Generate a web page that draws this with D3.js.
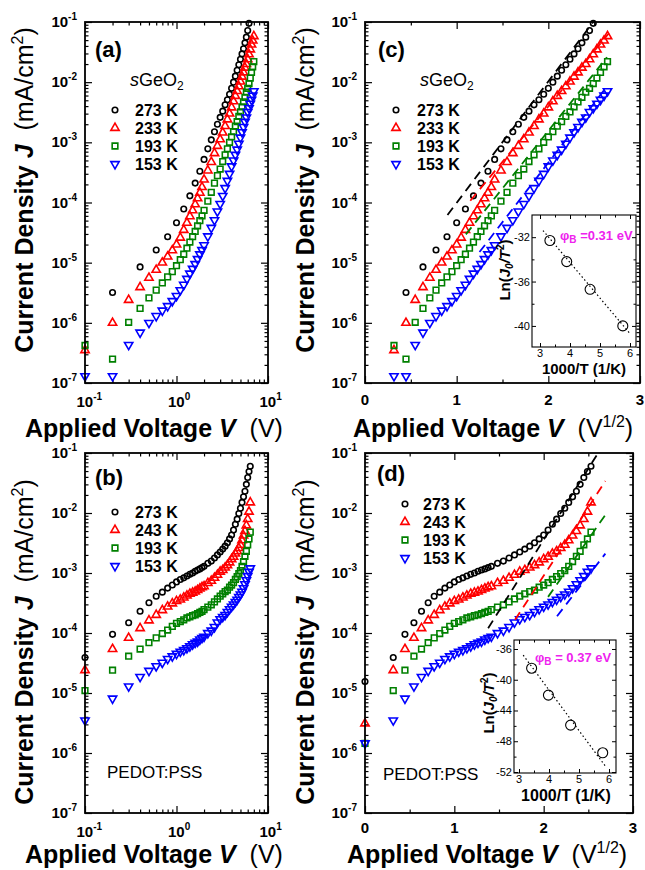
<!DOCTYPE html>
<html>
<head>
<meta charset="utf-8">
<script src="https://cdn.jsdelivr.net/npm/d3@7"></script>
<style>
  body { margin: 0; background: #fff; }
  svg { font-family: "Liberation Sans", Arial, Helvetica, sans-serif; }
</style>
</head>
<body>
<svg id="chart" width="645" height="870"></svg>
<script>
// ---------- sGeO2 device (panels a and c) ----------
const voltsGe273 = [0.2,0.4,0.6,0.8,1.0,1.2,1.4,1.6,1.8,2.0,2.2,2.4,2.6,2.8,3.0,3.2,3.4,3.6,3.8,4.0,
                    4.2,4.4,4.6,4.8,5.0,5.2,5.4,5.6,5.8,6.0,6.2];
const voltsGe = [0.1,0.2,0.3,0.4,0.5,0.6,0.7,0.8,0.9,1.0,1.1,1.2,1.3,1.4,1.5,1.6,1.7,1.8,1.9,2.0,
                 2.2,2.4,2.6,2.8,3.0,3.2,3.4,3.6,3.8,4.0,4.2,4.4,4.6,4.8,5.0,5.2,5.4,5.6,5.8,6.0,
                 6.2,6.4,6.6,6.8,7.0];
const geJ273 = [3.2e-6,8.5e-6,1.62e-5,2.7e-5,4.6e-5,7.8e-5,1.29e-4,2.1e-4,3.3e-4,5.2e-4,
                7.8e-4,1.1e-3,1.5e-3,2.0e-3,2.6e-3,3.3e-3,4.2e-3,5.1e-3,6.3e-3,7.9e-3,
                1.0e-2,1.26e-2,1.58e-2,1.95e-2,2.4e-2,2.95e-2,3.6e-2,4.5e-2,5.6e-2,7.2e-2,9.5e-2];
const geJ233 = [3.5e-7,1.0e-6,2.4e-6,3.9e-6,5.6e-6,7.6e-6,1.0e-5,1.26e-5,1.6e-5,2.0e-5,
                2.6e-5,3.5e-5,4.6e-5,5.9e-5,7.4e-5,9.3e-5,1.17e-4,1.45e-4,1.8e-4,2.4e-4,
                3.4e-4,4.7e-4,6.6e-4,8.7e-4,1.12e-3,1.45e-3,1.86e-3,2.4e-3,3.0e-3,3.8e-3,
                4.8e-3,5.9e-3,7.1e-3,8.5e-3,1.02e-2,1.23e-2,1.45e-2,1.74e-2,2.0e-2,2.4e-2,
                2.9e-2,3.5e-2,4.2e-2,4.9e-2,5.8e-2];
const geJ193 = [4.2e-7,2.5e-7,1.02e-6,1.74e-6,2.6e-6,3.5e-6,4.6e-6,5.8e-6,7.1e-6,8.9e-6,
                1.12e-5,1.38e-5,1.74e-5,2.2e-5,2.7e-5,3.3e-5,4.1e-5,5.0e-5,6.0e-5,7.4e-5,
                1.05e-4,1.48e-4,2.1e-4,2.8e-4,3.6e-4,4.8e-4,6.2e-4,7.8e-4,1.0e-3,1.23e-3,
                1.5e-3,1.86e-3,2.2e-3,2.7e-3,3.2e-3,3.9e-3,4.7e-3,5.6e-3,6.8e-3,7.9e-3,
                9.5e-3,1.17e-2,1.45e-2,1.8e-2,2.2e-2];
const geJ153 = [1.3e-7,1.3e-7,4.3e-7,6.9e-7,1.0e-6,1.3e-6,1.6e-6,1.9e-6,2.3e-6,2.8e-6,
                3.5e-6,4.3e-6,5.4e-6,6.6e-6,7.9e-6,9.5e-6,1.15e-5,1.38e-5,1.62e-5,1.95e-5,
                2.75e-5,3.8e-5,5.1e-5,7.1e-5,9.5e-5,1.29e-4,1.74e-4,2.3e-4,3.0e-4,4.0e-4,
                5.0e-4,6.2e-4,7.6e-4,9.5e-4,1.2e-3,1.48e-3,1.8e-3,2.2e-3,2.6e-3,3.2e-3,
                3.7e-3,4.4e-3,5.1e-3,6.0e-3,7.1e-3];
// dashed fits in panel (c): [V, J] end points
const fitGe273 = [[0.81, 6.2e-5], [6.25, 1.05e-1]];
const fitGe233 = [[1.32, 1.07e-4], [7.08, 6.5e-2]];
const fitGe193 = [[1.21, 2.95e-5], [6.97, 2.6e-2]];
const fitGe153 = [[1.56, 1.5e-5], [6.97, 8.5e-3]];

// ---------- PEDOT:PSS device (panels b and d) ----------
const voltsPed = [0,0.1,0.2,0.3,0.4,0.5,0.6,0.7,0.8,0.9,1.0,1.1,1.2,1.3,1.4,1.5,1.6,1.7,1.8,1.9,2.0,
                  2.2,2.4,2.6,2.8,3.0,3.2,3.4,3.6,3.8,4.0,4.2,4.4,4.6,4.8,5.0,5.2,5.4,5.6,5.8,6.0,6.2,6.4];
const pedJ273 = [1.55e-5,
                 3.9e-5,9.5e-5,1.48e-4,2.3e-4,3.2e-4,4.1e-4,4.8e-4,5.6e-4,6.3e-4,7.1e-4,
                 7.8e-4,8.3e-4,8.9e-4,9.5e-4,1.0e-3,1.07e-3,1.12e-3,1.17e-3,1.23e-3,1.29e-3,
                 1.45e-3,1.58e-3,1.78e-3,2.0e-3,2.24e-3,2.5e-3,2.8e-3,3.2e-3,3.7e-3,4.3e-3,
                 5.2e-3,6.5e-3,7.9e-3,9.8e-3,1.2e-2,1.5e-2,1.86e-2,2.3e-2,3.0e-2,3.9e-2,
                 4.9e-2,6.0e-2];
const pedJ243 = [3.1e-6,
                 2.4e-5,5.4e-5,8.3e-5,1.2e-4,1.62e-4,2.0e-4,2.4e-4,2.75e-4,3.1e-4,3.4e-4,
                 3.6e-4,3.9e-4,4.2e-4,4.5e-4,4.7e-4,4.9e-4,5.2e-4,5.5e-4,5.8e-4,6.0e-4,
                 6.8e-4,7.4e-4,8.3e-4,9.3e-4,1.05e-3,1.12e-3,1.23e-3,1.35e-3,1.5e-3,1.7e-3,
                 1.86e-3,2.1e-3,2.3e-3,2.6e-3,2.95e-3,3.5e-3,4.2e-3,5.0e-3,6.2e-3,7.9e-3,
                 1.05e-2,1.5e-2];
const pedJ193 = [1.45e-6,
                 1.1e-5,2.4e-5,4.1e-5,5.4e-5,6.9e-5,8.3e-5,9.8e-5,1.12e-4,1.29e-4,1.45e-4,
                 1.55e-4,1.66e-4,1.78e-4,1.86e-4,1.95e-4,2.0e-4,2.1e-4,2.2e-4,2.3e-4,2.45e-4,
                 2.7e-4,2.95e-4,3.3e-4,3.7e-4,4.1e-4,4.5e-4,4.9e-4,5.2e-4,5.8e-4,6.3e-4,
                 6.9e-4,7.8e-4,8.7e-4,9.8e-4,1.1e-3,1.29e-3,1.55e-3,1.9e-3,2.3e-3,2.95e-3,
                 3.7e-3,4.8e-3];
const pedJ153 = [1.45e-6,
                 3.5e-6,8.1e-6,1.29e-5,1.86e-5,2.35e-5,2.8e-5,3.2e-5,3.7e-5,4.1e-5,4.5e-5,
                 4.9e-5,5.2e-5,5.6e-5,6.0e-5,6.5e-5,6.9e-5,7.2e-5,7.8e-5,8.3e-5,8.7e-5,
                 1.0e-4,1.1e-4,1.26e-4,1.5e-4,1.7e-4,1.86e-4,2.0e-4,2.25e-4,2.5e-4,2.75e-4,
                 3.0e-4,3.3e-4,3.6e-4,4.0e-4,4.4e-4,4.9e-4,5.6e-4,6.5e-4,7.6e-4,8.9e-4,
                 1.05e-3,1.2e-3];
// dashed fits in panel (d): [V, J] end points
const fitPed273 = [[1.90, 1.2e-4], [6.81, 1.0e-1]];
const fitPed243 = [[2.82, 1.66e-4], [7.24, 3.4e-2]];
const fitPed193 = [[4.20, 4.0e-4], [7.24, 9.3e-3]];
const fitPed153 = [[4.62, 1.9e-4], [7.24, 2.1e-3]];

// ---------- insets: Ln(J0/T^2) vs 1000/T ----------
const insetCx = [3.33, 3.89, 4.67, 5.76];
const insetCy = [-32.3, -34.2, -36.7, -40.0];
const insetCfit = [[3.1, -31.4], [5.97, -40.6]];
const insetDx = [3.42, 3.98, 4.72, 5.79];
const insetDy = [-38.5, -42.0, -45.9, -49.5];
const insetDfit = [[3.14, -36.8], [5.87, -51.2]];

const decadeTicks = [1e-7, 1e-6, 1e-5, 1e-4, 1e-3, 1e-2, 1e-1];
const decadeExp = ["-7", "-6", "-5", "-4", "-3", "-2", "-1"];

const BLACK = "#000", RED = "#ff0000", GREEN = "#008000", BLUE = "#0000ff";

const geSeries = [
    {label: "273 K", volts: voltsGe273, j: geJ273, color: BLACK, shape: "circle"},
    {label: "233 K", volts: voltsGe, j: geJ233, color: RED, shape: "up"},
    {label: "193 K", volts: voltsGe, j: geJ193, color: GREEN, shape: "square"},
    {label: "153 K", volts: voltsGe, j: geJ153, color: BLUE, shape: "down"}
];
const pedSeries = [
    {label: "273 K", volts: voltsPed, j: pedJ273, color: BLACK, shape: "circle"},
    {label: "243 K", volts: voltsPed, j: pedJ243, color: RED, shape: "up"},
    {label: "193 K", volts: voltsPed, j: pedJ193, color: GREEN, shape: "square"},
    {label: "153 K", volts: voltsPed, j: pedJ153, color: BLUE, shape: "down"}
];
const geFits = [[fitGe273, BLACK], [fitGe233, RED], [fitGe193, GREEN], [fitGe153, BLUE]];
const pedFits = [[fitPed273, BLACK], [fitPed243, RED], [fitPed193, GREEN], [fitPed153, BLUE]];

const svg = d3.select("#chart");
svg.append("rect").attr("width", 645).attr("height", 870).attr("fill", "#fff");

const symbols = {
    circle: d3.symbol().type(d3.symbolCircle).size(24)(),
    up: d3.symbol().type(d3.symbolTriangle).size(30)(),
    square: d3.symbol().type(d3.symbolSquare).size(32)(),
    down: d3.symbol().type(d3.symbolTriangle).size(30)()
};
const MARK_W = 1.6;

// text made of styled pieces (bold / italic / super- and subscripts)
function richText(g, x, y, parts, o) {
    const t = g.append("text")
        .attr("x", x).attr("y", y)
        .attr("text-anchor", o.anchor || "start")
        .style("font-size", o.size + "px");
    if (o.rotate) t.attr("transform", `rotate(-90,${x},${y})`);
    if (o.fill) t.attr("fill", o.fill);
    if (o.bold) t.attr("font-weight", "bold");
    parts.forEach(p => {
        const s = t.append("tspan").text(p.t);
        if (p.b) s.attr("font-weight", "bold");
        if (p.i) s.attr("font-style", "italic");
        if (p.dy) s.attr("dy", p.dy);
        if (p.fs) s.style("font-size", p.fs + "px");
    });
    return t;
}

function minorLog(lo, hi) {
    const out = [];
    for (let e = Math.floor(Math.log10(lo)); e < Math.ceil(Math.log10(hi)); e++) {
        for (let k = 2; k <= 9; k++) {
            const v = k * Math.pow(10, e);
            if (v > lo && v < hi) out.push(v);
        }
    }
    return out;
}

function tickAxes(g, x, y, box, xMajor, xMinor, yMajor, yMinor, big, small, w) {
    const add = (axis, tr) => {
        const a = g.append("g").attr("transform", tr).call(axis);
        a.select(".domain").remove();
        a.selectAll("line").attr("stroke", "#000").attr("stroke-width", w);
    };
    [[xMajor, big], [xMinor, small]].forEach(([vals, len]) => {
        add(d3.axisBottom(x).tickValues(vals).tickSize(-len).tickFormat(""), `translate(0,${box.y1})`);
        add(d3.axisTop(x).tickValues(vals).tickSize(-len).tickFormat(""), `translate(0,${box.y0})`);
    });
    [[yMajor, big], [yMinor, small]].forEach(([vals, len]) => {
        add(d3.axisLeft(y).tickValues(vals).tickSize(-len).tickFormat(""), `translate(${box.x0},0)`);
        add(d3.axisRight(y).tickValues(vals).tickSize(-len).tickFormat(""), `translate(${box.x1},0)`);
    });
}

function drawPanel(p) {
    const g = svg.append("g");
    const x = p.sqrt
        ? d3.scaleSqrt().domain([0, 9]).range([p.x0, p.x1])
        : d3.scaleLog().domain([0.1, 10]).range([p.x0, p.x1]);
    const y = d3.scaleLog().domain([1e-7, 1e-1]).range([p.y1, p.y0]);

    const xMajor = p.sqrt ? [0, 1, 4, 9] : [0.1, 1, 10];
    const xMinor = p.sqrt ? [0.25, 2.25, 6.25] : minorLog(0.1, 10);
    tickAxes(g, x, y, p, xMajor, xMinor, decadeTicks, minorLog(1e-7, 1e-1), 7, 3.5, 1.2);

    // y tick labels 10^n
    decadeTicks.forEach((v, i) => {
        richText(g, p.x0 - 8, y(v) + 5, [{t: "10"}, {t: decadeExp[i], dy: -7, fs: 10}],
            {size: 15, anchor: "end", bold: true});
    });
    // x tick labels
    if (p.sqrt) {
        [0, 1, 4, 9].forEach(v => {
            g.append("text").attr("x", x(v)).attr("y", p.tickY).attr("text-anchor", "middle")
                .attr("font-weight", "bold").style("font-size", "15px").text(Math.sqrt(v));
        });
    } else {
        [[0.1, "-1"], [1, "0"], [10, "1"]].forEach(([v, e]) => {
            richText(g, x(v) - 8.5, p.tickY, [{t: "10"}, {t: e, dy: -7, fs: 10}], {size: 15, bold: true});
        });
    }

    // data markers
    p.series.forEach(s => {
        const pts = s.volts.map((v, i) => ({v, j: s.j[i]}))
            .filter(d => p.sqrt ? d.v >= 0 : d.v >= 0.1);
        g.append("g").selectAll("path").data(pts).join("path")
            .attr("transform", d => `translate(${x(d.v)},${y(d.j)})` + (s.shape === "down" ? " rotate(180)" : ""))
            .attr("d", symbols[s.shape])
            .attr("fill", "none")
            .attr("stroke", s.color)
            .attr("stroke-width", MARK_W);
    });

    // dashed fit lines
    if (p.fits) {
        const clipId = "clip-" + p.id;
        svg.append("clipPath").attr("id", clipId).append("rect")
            .attr("x", p.x0).attr("y", p.y0).attr("width", p.x1 - p.x0).attr("height", p.y1 - p.y0);
        g.append("g").attr("clip-path", `url(#${clipId})`)
            .selectAll("line").data(p.fits).join("line")
            .attr("x1", d => x(d[0][0][0])).attr("y1", d => y(d[0][0][1]))
            .attr("x2", d => x(d[0][1][0])).attr("y2", d => y(d[0][1][1]))
            .attr("stroke", d => d[1])
            .attr("stroke-width", 1.8)
            .attr("stroke-dasharray", "9,6");
    }

    // frame
    g.append("rect").attr("x", p.x0).attr("y", p.y0)
        .attr("width", p.x1 - p.x0).attr("height", p.y1 - p.y0)
        .attr("fill", "none").attr("stroke", "#000").attr("stroke-width", 1.8);

    // panel tag
    g.append("text").attr("x", p.tag[1]).attr("y", p.tag[2])
        .attr("font-weight", "bold").style("font-size", "22px").text(p.tag[0]);

    // legend
    p.series.forEach((s, i) => {
        const ry = p.legend.rows[i];
        g.append("path")
            .attr("transform", `translate(${p.legend.sx},${ry})` + (s.shape === "down" ? " rotate(180)" : ""))
            .attr("d", symbols[s.shape]).attr("fill", "none")
            .attr("stroke", s.color).attr("stroke-width", MARK_W);
        g.append("text").attr("x", p.legend.tx).attr("y", ry + 6)
            .attr("font-weight", "bold").style("font-size", "16px").text(s.label);
    });

    if (p.material) {
        richText(g, p.material[0], p.material[1],
            [{t: "s", i: 1}, {t: "GeO"}, {t: "2", dy: 4, fs: 12}], {size: 18});
    }
    if (p.pedot) {
        g.append("text").attr("x", p.pedot[0]).attr("y", p.pedot[1])
            .style("font-size", "17px").text("PEDOT:PSS");
    }

    // axis titles
    const xParts = [{t: "Applied Voltage ", b: 1}, {t: "V", b: 1, i: 1}];
    if (p.sqrt) xParts.push({t: "\u00a0\u00a0(V"}, {t: "1/2", dy: -10, fs: 16}, {t: ")", dy: 10});
    else xParts.push({t: "\u00a0\u00a0(V)"});
    richText(g, p.xTitle[0], p.xTitle[1], xParts, {size: 25});

    richText(g, p.yTitle[0], p.yTitle[1],
        [{t: "Current Density ", b: 1}, {t: "J", b: 1, i: 1}, {t: "\u00a0\u00a0(mA/cm"},
         {t: "2", dy: -10, fs: 16}, {t: ")", dy: 10}],
        {size: 25, anchor: "middle", rotate: true});
}

function drawInset(q) {
    const g = svg.append("g");
    const x = d3.scaleLinear().domain(q.xd).range([q.x0, q.x1]);
    const y = d3.scaleLinear().domain(q.yd).range([q.y1, q.y0]);
    g.append("rect").attr("x", q.x0).attr("y", q.y0)
        .attr("width", q.x1 - q.x0).attr("height", q.y1 - q.y0).attr("fill", "#fff");
    tickAxes(g, x, y, q, [3, 4, 5, 6], [3.5, 4.5, 5.5], q.yMajor, q.yMinor, 4, 2.5, 1);

    q.yMajor.forEach(v => {
        g.append("text").attr("x", q.x0 - 2).attr("y", y(v) + 4).attr("text-anchor", "end")
            .style("font-size", "11px").text(v);
    });
    [3, 4, 5, 6].forEach(v => {
        g.append("text").attr("x", x(v)).attr("y", q.tickY).attr("text-anchor", "middle")
            .style("font-size", "11px").text(v);
    });

    g.append("line")
        .attr("x1", x(q.fit[0][0])).attr("y1", y(q.fit[0][1]))
        .attr("x2", x(q.fit[1][0])).attr("y2", y(q.fit[1][1]))
        .attr("stroke", "#000").attr("stroke-width", 1.2).attr("stroke-dasharray", "1.5,2.5");
    g.selectAll("circle.pt").data(q.px).join("circle").attr("class", "pt")
        .attr("cx", d => x(d)).attr("cy", (d, i) => y(q.py[i])).attr("r", 5)
        .attr("fill", "none").attr("stroke", "#000").attr("stroke-width", 1.1);

    g.append("rect").attr("x", q.x0).attr("y", q.y0)
        .attr("width", q.x1 - q.x0).attr("height", q.y1 - q.y0)
        .attr("fill", "none").attr("stroke", "#000").attr("stroke-width", 1.1);

    richText(g, q.xTitle[0], q.xTitle[1], [{t: "1000/T (1/K)"}],
        {size: q.xTitle[2], anchor: "middle", bold: true});
    richText(g, q.yTitle[0], q.yTitle[1],
        [{t: "Ln("}, {t: "J", i: 1}, {t: "0", i: 1, dy: 3, fs: 10}, {t: "/T", i: 1, dy: -3},
         {t: "2", dy: -6, fs: 10}, {t: ")", dy: 6}],
        {size: 15, anchor: "middle", rotate: true, bold: true});
    richText(g, q.phi[0], q.phi[1],
        [{t: "\u03c6"}, {t: "B", dy: 3, fs: 10}, {t: q.phi[2], dy: -3}],
        {size: 13, bold: true, fill: "#ee22ee"});
}

drawPanel({id: "a", x0: 85, x1: 268, y0: 22, y1: 383, sqrt: false, tickY: 407,
    series: geSeries, fits: null, tag: ["(a)", 95, 57],
    legend: {sx: 115, tx: 135, rows: [110, 128, 146, 164]}, material: [130, 86],
    xTitle: [25, 437], yTitle: [33, 190]});
drawPanel({id: "c", x0: 365, x1: 640, y0: 22, y1: 383, sqrt: true, tickY: 405,
    series: geSeries, fits: geFits, tag: ["(c)", 378, 57],
    legend: {sx: 396, tx: 417, rows: [110, 128, 146, 164]}, material: [420, 86],
    xTitle: [353, 437], yTitle: [314, 190]});
drawPanel({id: "b", x0: 85, x1: 268, y0: 453, y1: 813, sqrt: false, tickY: 837,
    series: pedSeries, fits: null, tag: ["(b)", 95, 485],
    legend: {sx: 115, tx: 135, rows: [512, 530, 548, 566]}, pedot: [107, 778],
    xTitle: [25, 863], yTitle: [33, 642]});
drawPanel({id: "d", x0: 365, x1: 633, y0: 453, y1: 813, sqrt: true, tickY: 833,
    series: pedSeries, fits: pedFits, tag: ["(d)", 377, 481],
    legend: {sx: 405, tx: 423, rows: [504, 522, 540, 558]}, pedot: [383, 780],
    xTitle: [347, 863], yTitle: [314, 642]});

drawInset({x0: 532, x1: 636, y0: 215, y1: 347, xd: [2.733, 6.2], yd: [-41.9, -30],
    yMajor: [-32, -36, -40], yMinor: [-34, -38], tickY: 357,
    px: insetCx, py: insetCy, fit: insetCfit,
    xTitle: [584, 374, 15], yTitle: [510, 270], phi: [560, 240, " =0.31 eV"]});
drawInset({x0: 514, x1: 616, y0: 640, y1: 773, xd: [2.833, 6.233], yd: [-52.13, -34.83],
    yMajor: [-36, -40, -44, -48, -52], yMinor: [-38, -42, -46, -50], tickY: 783,
    px: insetDx, py: insetDy, fit: insetDfit,
    xTitle: [566, 801, 16], yTitle: [494, 703], phi: [535, 662, " = 0.37 eV"]});
</script>
</body>
</html>
